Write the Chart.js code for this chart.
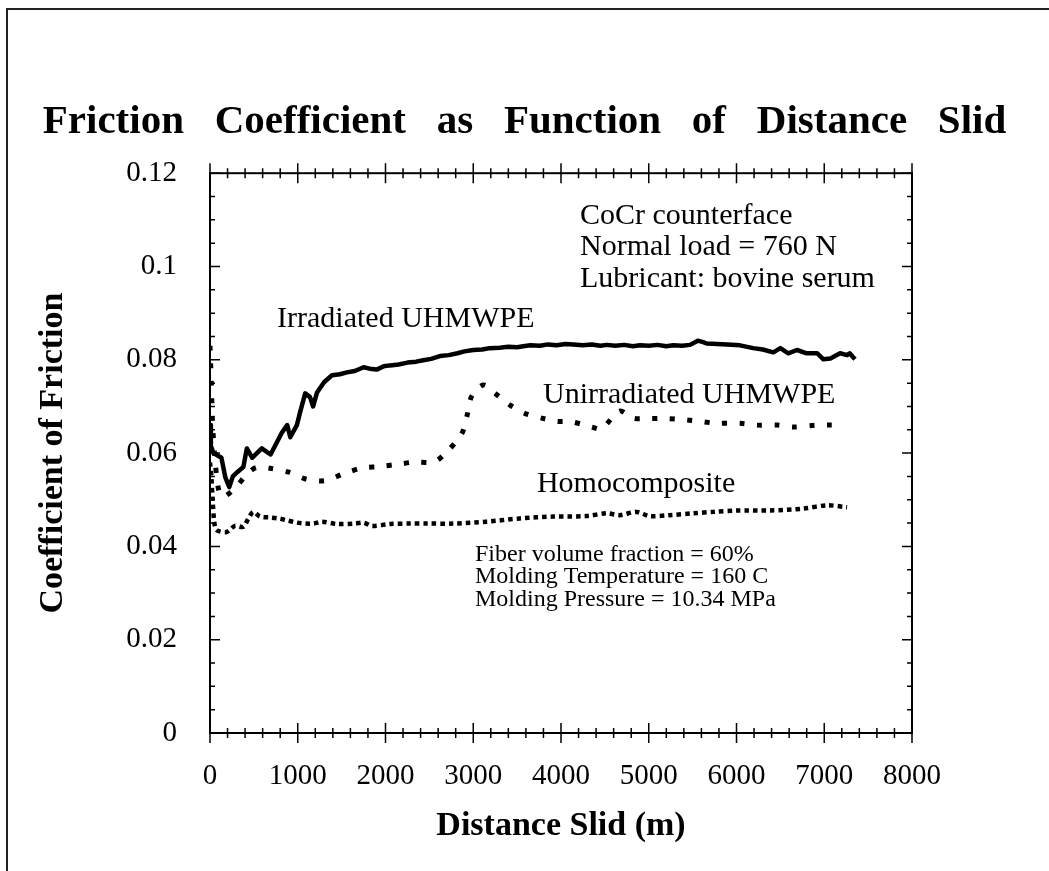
<!DOCTYPE html>
<html>
<head>
<meta charset="utf-8">
<script src="https://cdn.jsdelivr.net/npm/chart.js@4.4.1/dist/chart.umd.min.js"></script>
<style>
    body { margin: 0; background: #fff; }
    #wrap { position: relative; width: 1049px; height: 871px; }
    #frame { position: absolute; left: 6px; top: 8px; right: 0; bottom: 0; border-left: 2px solid #222; border-top: 2px solid #222; }
    #c { position: absolute; left: 0; top: 0; }
</style>
</head>
<body>
<div id="wrap">
    <div id="frame"></div>
    <canvas id="c" width="1049" height="871"></canvas>
</div>
<script>
// Irradiated UHMWPE (solid)
const irrX = [0, 10, 40, 130, 175, 220, 260, 310, 380, 420, 480, 590, 690, 820, 880, 915, 990, 1030, 1085, 1140, 1175, 1220,
    1300, 1390, 1480, 1560, 1650, 1750, 1820, 1900, 1980, 2050, 2150, 2250, 2350, 2430, 2520, 2620, 2720, 2820, 2900, 3000,
    3100, 3190, 3300, 3400, 3500, 3570, 3650, 3760, 3850, 3950, 4050, 4140, 4250, 4350, 4450, 4520, 4620, 4720, 4820, 4900,
    5000, 5100, 5200, 5280, 5380, 5470, 5560, 5620, 5660, 5780, 5890, 6040, 6190, 6300, 6420, 6500, 6590, 6690, 6800, 6920,
    6990, 7070, 7180, 7260, 7290, 7350]
const irrY = [0.066, 0.0615, 0.060, 0.059, 0.0548, 0.0527, 0.055, 0.0559, 0.057, 0.061, 0.059, 0.061, 0.0597, 0.0644, 0.066, 0.0634, 0.066, 0.069, 0.0728, 0.072, 0.070, 0.073,
    0.0752, 0.0767, 0.0769, 0.0773, 0.0776, 0.0784, 0.0781, 0.0779, 0.0786, 0.0788, 0.0790, 0.0794, 0.0796, 0.0799, 0.0802, 0.0808, 0.0810, 0.0814, 0.0818, 0.0821,
    0.0822, 0.0825, 0.0826, 0.0828, 0.0827, 0.0829, 0.0831, 0.0830, 0.0833, 0.0831, 0.0834, 0.0833, 0.0831, 0.0833, 0.0830, 0.0832, 0.0830, 0.0832, 0.0829, 0.0831,
    0.0830, 0.0832, 0.0829, 0.0831, 0.0830, 0.0832, 0.0841, 0.0838, 0.0835, 0.0834, 0.0833, 0.0831, 0.0825, 0.0822, 0.0816, 0.0825, 0.0814, 0.0821, 0.0814, 0.0814,
    0.0801, 0.0803, 0.0814, 0.0810, 0.0814, 0.0801]

// Unirradiated UHMWPE (coarse dots)
const unX = [0, 15, 30, 60, 100, 150, 300, 420, 530, 700, 900, 1100, 1310, 1510, 1730, 1930, 2140, 2340, 2550, 2700, 2870, 2930, 2980,
    3115, 3250, 3420, 3590, 3780, 3950, 4120, 4350, 4460, 4670, 4820, 5010, 5200, 5430, 5620, 5770, 6040, 6230, 6460, 6650, 6910, 7070, 7200]
const unY = [0.083, 0.075, 0.066, 0.058, 0.052, 0.0506, 0.0528, 0.0555, 0.0569, 0.0567, 0.0559, 0.0544, 0.0541, 0.0555, 0.0568, 0.0571, 0.0576, 0.0581, 0.0581, 0.0603, 0.0642, 0.0681, 0.0721,
    0.0746, 0.0728, 0.0703, 0.0685, 0.0675, 0.0668, 0.0667, 0.0656, 0.0652, 0.0690, 0.0675, 0.0674, 0.0674, 0.0671, 0.0667, 0.0664, 0.0664, 0.0660, 0.0660, 0.0656, 0.0660, 0.0660, 0.0660]

// Homocomposite (fine dots)
const homX = [0, 15, 30, 50, 76, 190, 285, 380, 437, 494, 570, 684, 780, 875, 990, 1085, 1180, 1275, 1445, 1650, 1750, 1845, 2050, 2280,
    2470, 2770, 3150, 3530, 3910, 4290, 4520, 4670, 4860, 5010, 5240, 5510, 5740, 6000, 6380, 6760, 7030, 7260]
const homY = [0.058, 0.055, 0.050, 0.045, 0.0435, 0.0431, 0.0444, 0.0442, 0.046, 0.0474, 0.0464, 0.0462, 0.046, 0.0456, 0.0451, 0.0449, 0.0449, 0.0453, 0.0448, 0.0449, 0.0451, 0.0444, 0.0448, 0.0449,
    0.0449, 0.0449, 0.0453, 0.046, 0.0464, 0.0465, 0.0471, 0.0467, 0.0474, 0.0465, 0.0467, 0.0471, 0.0474, 0.0477, 0.0477, 0.0481, 0.0488, 0.0484]

const serif = "'Liberation Serif', 'Times New Roman', serif"

// text notes placed in data units (left edge, baseline)
const notes = [
    {text: 'Irradiated UHMWPE', x: 764, y: 0.0870, size: 30},
    {text: 'CoCr counterface', x: 4217, y: 0.1091, size: 30},
    {text: 'Normal load = 760 N', x: 4217, y: 0.1024, size: 30},
    {text: 'Lubricant: bovine serum', x: 4217, y: 0.0955, size: 30},
    {text: 'Unirradiated UHMWPE', x: 3795, y: 0.0707, size: 30},
    {text: 'Homocomposite', x: 3726, y: 0.0516, size: 30},
    {text: 'Fiber volume fraction = 60%', x: 3020, y: 0.0368, size: 24},
    {text: 'Molding Temperature = 160 C', x: 3020, y: 0.0321, size: 24},
    {text: 'Molding Pressure = 10.34 MPa', x: 3020, y: 0.0272, size: 24}
]

const pts = (xs, ys) => xs.map((v, i) => ({x: v, y: ys[i]}))

const boxAndNotes = {
    id: 'boxAndNotes',
    afterDraw(chart) {
        const {ctx, chartArea: a, scales: {x, y}} = chart
        ctx.save()
        ctx.strokeStyle = '#000'
        ctx.lineWidth = 2
        ctx.strokeRect(a.left, a.top, a.width, a.height)
        ctx.lineWidth = 1.5
        ctx.beginPath()
        // x ticks every 200 m, crossing the top and bottom lines
        for (let v = 0; v <= 8000; v += 200) {
            const px = x.getPixelForValue(v)
            const len = v % 1000 === 0 ? 10 : 5
            ctx.moveTo(px, a.bottom - len); ctx.lineTo(px, a.bottom + len)
            ctx.moveTo(px, a.top - len); ctx.lineTo(px, a.top + len)
        }
        // y ticks every 0.005, inward on both sides
        for (let i = 0; i <= 24; i++) {
            const py = y.getPixelForValue(i * 0.005)
            const len = i % 4 === 0 ? 10 : 5
            ctx.moveTo(a.left, py); ctx.lineTo(a.left + len, py)
            ctx.moveTo(a.right, py); ctx.lineTo(a.right - len, py)
        }
        ctx.stroke()
        ctx.fillStyle = '#000'
        ctx.textAlign = 'left'
        ctx.textBaseline = 'alphabetic'
        notes.forEach(n => {
            ctx.font = n.size + 'px ' + serif
            ctx.fillText(n.text, x.getPixelForValue(n.x), y.getPixelForValue(n.y))
        })
        ctx.restore()
    }
}

const ctx = document.getElementById('c').getContext('2d')
new Chart(ctx, {
    type: 'line',
    data: {
        datasets: [
            {
                label: 'Irradiated UHMWPE',
                data: pts(irrX, irrY),
                borderColor: '#000',
                borderWidth: 4.5,
                borderJoinStyle: 'round',
                pointRadius: 0,
                tension: 0
            },
            {
                label: 'Unirradiated UHMWPE',
                data: pts(unX, unY),
                borderColor: '#000',
                borderWidth: 5,
                borderDash: [5, 12.5],
                pointRadius: 0,
                tension: 0.3
            },
            {
                label: 'Homocomposite',
                data: pts(homX, homY),
                borderColor: '#000',
                borderWidth: 4.5,
                borderDash: [4.5, 4],
                pointRadius: 0,
                tension: 0.3
            }
        ]
    },
    options: {
        responsive: false,
        animation: false,
        devicePixelRatio: 1,
        layout: {padding: {top: 98, right: 0, bottom: 0, left: 0}},
        scales: {
            x: {
                type: 'linear',
                min: 0,
                max: 8000,
                grid: {display: false, drawTicks: false},
                border: {display: false},
                ticks: {
                    stepSize: 1000,
                    padding: 26,
                    color: '#000',
                    maxRotation: 0,
                    font: {family: serif, size: 29},
                    callback: v => String(v)
                },
                title: {
                    display: true,
                    text: 'Distance Slid (m)',
                    color: '#000',
                    font: {family: serif, size: 34, weight: 'bold'},
                    padding: {top: 0, bottom: 24}
                },
                afterFit: s => { s.height = 138 }
            },
            y: {
                min: 0,
                max: 0.12,
                grid: {display: false, drawTicks: false},
                border: {display: false},
                ticks: {
                    stepSize: 0.02,
                    padding: 33,
                    color: '#000',
                    font: {family: serif, size: 29},
                    callback: v => String(+v.toFixed(3))
                },
                title: {
                    display: true,
                    text: 'Coefficient of Friction',
                    color: '#000',
                    font: {family: serif, size: 34, weight: 'bold'},
                    padding: {top: 33, bottom: 0}
                },
                afterFit: s => { s.width = 210 }
            },
            // empty right margin
            y2: {
                display: true,
                position: 'right',
                grid: {display: false, drawTicks: false},
                border: {display: false},
                ticks: {display: false},
                afterFit: s => { s.width = 137 }
            }
        },
        plugins: {
            legend: {display: false},
            tooltip: {enabled: false},
            title: {
                display: true,
                text: 'Friction   Coefficient   as   Function   of   Distance   Slid',
                color: '#000',
                font: {family: serif, size: 41, weight: 'bold'},
                padding: {top: 0, bottom: 26}
            }
        }
    },
    plugins: [boxAndNotes]
})
</script>
</body>
</html>
